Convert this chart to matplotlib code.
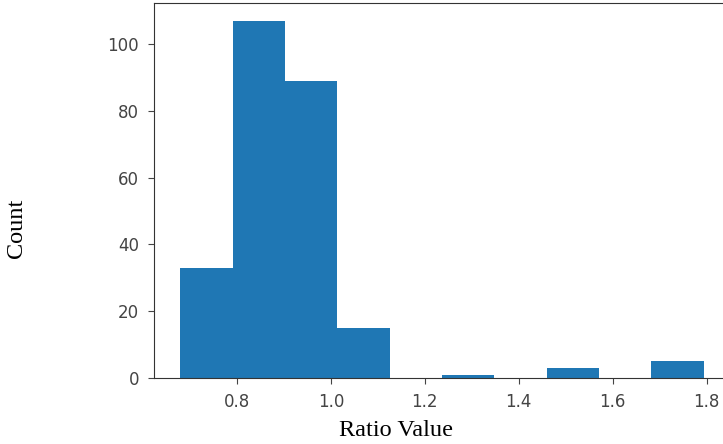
import matplotlib
matplotlib.use("Agg")
import matplotlib.pyplot as plt

# histogram data
bin_edges = [0.679, 0.7905, 0.902, 1.0135, 1.125, 1.2365, 1.348, 1.4595, 1.571, 1.6825, 1.794]
counts = [33, 107, 89, 15, 0, 1, 0, 3, 0, 5]
centers = [(a + b) / 2 for a, b in zip(bin_edges[:-1], bin_edges[1:])]
x_ticks = [0.8, 1.0, 1.2, 1.4, 1.6, 1.8]
y_ticks = [0, 20, 40, 60, 80, 100]

fig = plt.figure(figsize=(7.23, 4.44), dpi=100)
ax = fig.add_axes([154 / 723, 66 / 444, (730 - 154) / 723, (378 - 3) / 444])
ax.hist(centers, bins=bin_edges, weights=counts, color="#1f77b4")
ax.set_xticks(x_ticks)
ax.set_yticks(y_ticks)
ax.set_ylim(0, max(counts) * 1.05)
ax.tick_params(colors="#444444", labelsize=12, length=4.3, pad=6.5)
for s in ax.spines.values():
    s.set_color("#333333")
ax.set_xlabel("Ratio Value", family="Liberation Serif", fontsize=17.5)
ax.set_ylabel("Count", family="Liberation Serif", fontsize=17.5)
ax.xaxis.set_label_coords((396 - 154) / 576, -0.112)
ax.yaxis.set_label_coords(-0.221, 0.4)
fig.savefig("out.png", dpi=100)
